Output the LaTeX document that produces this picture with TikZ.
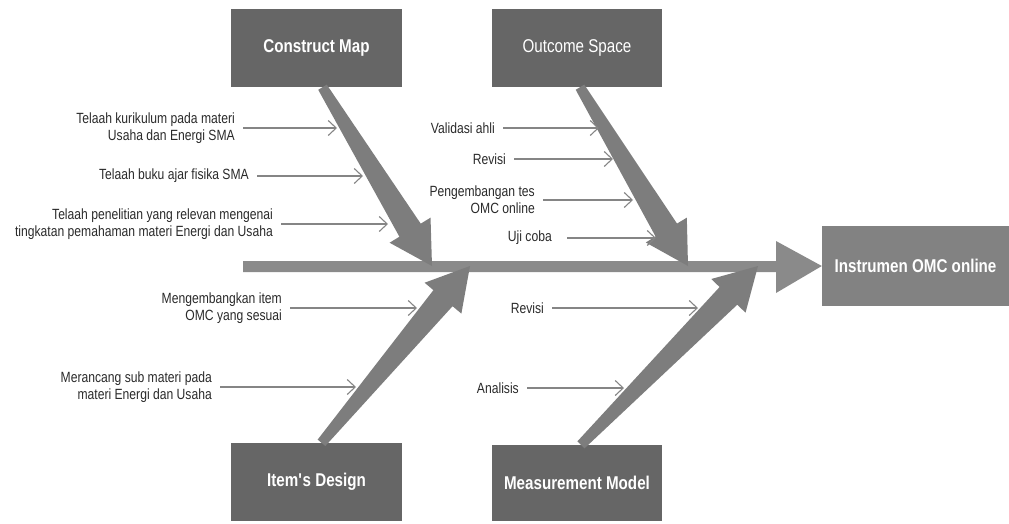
\documentclass[tikz,border=0pt]{standalone}
\usepackage{fontspec}
\setmainfont{Liberation Sans}[FakeStretch=0.82]
\usetikzlibrary{calc,arrows.meta}
\definecolor{boxc}{HTML}{666666}
\definecolor{goalc}{HTML}{828282}
\definecolor{bonec}{HTML}{7D7D7D}
\definecolor{spinec}{HTML}{8A8A8A}
\definecolor{linec}{HTML}{858585}
\definecolor{txtc}{HTML}{2A2A2A}
\newcommand\fishbone[2]{%
  \coordinate (fbB) at ($(#2)!42pt!(#1)$);
  \fill[bonec] ($(#1)!5pt!90:(#2)$) -- ($(fbB)!12.5pt!90:(#2)$) -- ($(fbB)!24pt!90:(#2)$) -- (#2)
    -- ($(fbB)!24pt!-90:(#2)$) -- ($(fbB)!12.5pt!-90:(#2)$) -- ($(#1)!5pt!-90:(#2)$) -- cycle;}
\begin{document}
\begin{tikzpicture}[x=1pt,y=-1pt,
  catbox/.style={fill=boxc,text=white,inner sep=0pt,font=\fontsize{18.5}{22}\selectfont\bfseries},
  goalbox/.style={fill=goalc,text=white,inner sep=0pt,font=\fontsize{18.5}{22}\selectfont\bfseries},
  lab/.style={anchor=east,text=txtc,align=right,inner xsep=8pt,inner ysep=0pt,font=\fontsize{14.8}{17}\selectfont},
  cause/.style={draw=linec,line width=1.1pt,-{Straight Barb[length=8pt,width=15pt,line width=1.1pt]}}]
\useasboundingbox (0,0) rectangle (1009,523);
% category boxes
\node[catbox,minimum width=171pt,minimum height=78pt] (cm) at (316.5,48) {Construct Map};
\node[catbox,minimum width=170pt,minimum height=78pt,font=\fontsize{18.5}{22}\selectfont] (os) at (577,48) {Outcome Space};
\node[catbox,minimum width=171pt,minimum height=78pt] (id) at (316.5,482) {Item\textquotesingle s Design};
\node[catbox,minimum width=170pt,minimum height=76pt] (mm) at (577,483) {Measurement Model};
\node[goalbox,minimum width=187pt,minimum height=80pt] (io) at (915.5,266) {Instrumen OMC online};
% spine
\fill[spinec] (243,261) -- (776,261) -- (776,241) -- (io.west) -- (776,293) -- (776,272) -- (243,272) -- cycle;
% fishbones
\coordinate (cmS) at ($(cm.south)+(6,0)$);
\coordinate (cmT) at (432,266);
\coordinate (osS) at ($(os.south)+(3,0)$);
\coordinate (osT) at (688,266);
\coordinate (idS) at ($(id.north)+(5,0)$);
\coordinate (idT) at (470,266);
\coordinate (mmS) at ($(mm.north)+(4,0)$);
\coordinate (mmT) at (758,266);
\fishbone{cmS}{cmT}
\fishbone{osS}{osT}
\fishbone{idS}{idT}
\fishbone{mmS}{mmT}
% cause labels
\node[lab] (l1) at (243,128) {Telaah kurikulum pada materi\\Usaha dan Energi SMA};
\node[lab] (l2) at (257,176) {Telaah buku ajar fisika SMA};
\node[lab] (l3) at (281,224) {Telaah penelitian yang relevan mengenai\\tingkatan pemahaman materi Energi dan Usaha};
\node[lab] (l4) at (290,308) {Mengembangkan item\\OMC yang sesuai};
\node[lab] (l5) at (220,387) {Merancang sub materi pada\\materi Energi dan Usaha};
\node[lab] (l6) at (503,128) {Validasi ahli};
\node[lab] (l7) at (514,159) {Revisi};
\node[lab] (l8) at (543,200) {Pengembangan tes\\OMC online};
\node[lab,inner xsep=15pt] (l9) at (567,238) {Uji coba};
\node[lab] (l10) at (552,308) {Revisi};
\node[lab] (l11) at (527,388) {Analisis};
% cause arrow ends
\coordinate (t1) at (337,128);
\coordinate (t2) at (363,176);
\coordinate (t3) at (388,224);
\coordinate (t4) at (417,308);
\coordinate (t5) at (356,387);
\coordinate (t6) at (599,128);
\coordinate (t7) at (613,159);
\coordinate (t8) at (633,200);
\coordinate (t9) at (656,238);
\coordinate (t10) at (698,308);
\coordinate (t11) at (624,388);
\foreach \i in {1,...,11} {\draw[cause] (l\i.east) -- (t\i);}
\end{tikzpicture}
\end{document}
